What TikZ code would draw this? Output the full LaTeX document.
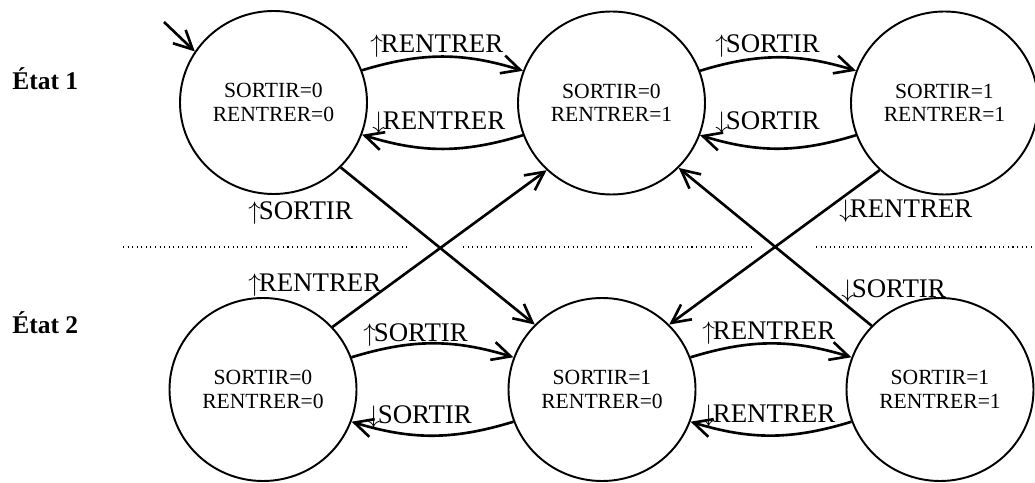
\documentclass[tikz,border=0pt]{standalone}
\usepackage{fontspec}
\setmainfont{Liberation Serif}
\usetikzlibrary{arrows.meta, shapes.geometric}

\newcommand{\monte}{$\uparrow$\kern-0.08em}
\newcommand{\descend}{$\downarrow$\kern-0.08em}

\begin{document}
\begin{tikzpicture}[
	etat/.style={ellipse, draw, line width=1.1pt, minimum width=3.74cm, minimum height=3.66cm,
		inner sep=0pt, align=center, font=\fontsize{12.3}{13.3}\selectfont},
	trans/.style={line width=1.5pt, -{Straight Barb[length=10.5pt,width=10.5pt]}},
	lab/.style={anchor=base west, inner sep=0pt, font=\fontsize{15.3}{18}\selectfont},
	niveau/.style={anchor=base west, inner sep=0pt, font=\fontsize{14.5}{17}\selectfont\bfseries}]
	\useasboundingbox (0,0) rectangle (20.7,9.64);
	% niveaux
	\node[niveau] (n1) at (0.24,7.84) {État 1};
	\node[niveau] (n2) at (0.24,2.96) {État 2};
	% separation
	\foreach \a/\b in {2.46/8.18, 9.26/15.08, 16.32/20.7} \draw[dotted, line width=0.6pt] (\a,4.70) -- (\b,4.70);
	% etats
	\node[etat] (T1) at (5.47,7.59) {SORTIR=0\\RENTRER=0};
	\node[etat] (T2) at (12.23,7.58) {SORTIR=0\\RENTRER=1};
	\node[etat] (T3) at (18.89,7.58) {SORTIR=1\\RENTRER=1};
	\node[etat] (B1) at (5.26,1.85) {SORTIR=0\\RENTRER=0};
	\node[etat] (B2) at (12.04,1.85) {SORTIR=1\\RENTRER=0};
	\node[etat] (B3) at (18.80,1.85) {SORTIR=1\\RENTRER=1};
	% entree
	\coordinate (init) at (3.28,9.2);
	\draw[trans] (init) -- (T1.147);
	% transitions horizontales
	\foreach \g/\d in {T1/T2, T2/T3, B1/B2, B2/B3} {
		\draw[trans] (\g.20) to[bend left=17] (\d.160);
		\draw[trans] (\d.200) to[bend left=17] (\g.340);
	}
	% transitions croisees
	\draw[trans] (T1.316) -- (B2.136);
	\draw[trans] (B1.42) -- (T2.226);
	\draw[trans] (T3.226) -- (B2.44);
	\draw[trans] (B3.137) -- (T2.316);
	% etiquettes
	\node[lab] (l1) at (7.40,8.58) {\monte RENTRER};
	\node[lab] (l2) at (7.44,7.04) {\descend RENTRER};
	\node[lab] (l3) at (4.96,5.24) {\monte SORTIR};
	\node[lab] (l4) at (14.30,8.58) {\monte SORTIR};
	\node[lab] (l5) at (14.30,7.04) {\descend SORTIR};
	\node[lab] (l6) at (16.78,5.28) {\descend RENTRER};
	\node[lab] (l7) at (4.96,3.80) {\monte RENTRER};
	\node[lab] (l8) at (16.82,3.68) {\descend SORTIR};
	\node[lab] (l9) at (7.26,2.80) {\monte SORTIR};
	\node[lab] (l10) at (7.34,1.18) {\descend SORTIR};
	\node[lab] (l11) at (14.04,2.84) {\monte RENTRER};
	\node[lab] (l12) at (14.04,1.20) {\descend RENTRER};
\end{tikzpicture}
\end{document}
